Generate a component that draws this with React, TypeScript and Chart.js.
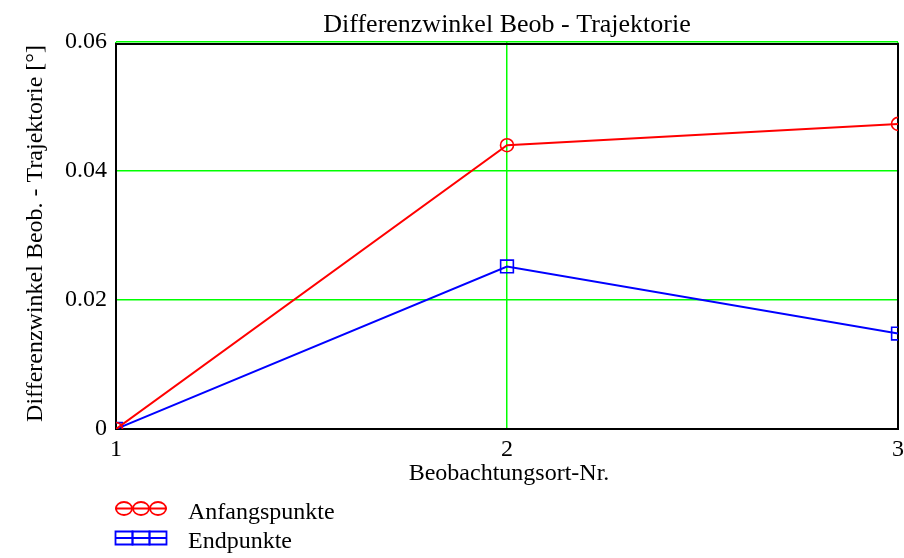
import React, { useEffect, useRef } from 'react';
import { Chart, registerables } from 'chart.js';

Chart.register(...registerables);

// ---- data ----
const categories = [1, 2, 3];
const anfangspunkte = [0, 0.044, 0.0473];
const endpunkte = [0, 0.0252, 0.0148];
const xTickLabels = ['1', '2', '3'];
const yTickLabels = ['0', '0.02', '0.04', '0.06'];
const seriesNames = ['Anfangspunkte', 'Endpunkte'];
const seriesColors = ['#ff0000', '#0000ff'];
const chartTitle = 'Differenzwinkel Beob - Trajektorie';
const xTitle = 'Beobachtungsort-Nr.';
const yTitle = 'Differenzwinkel Beob. - Trajektorie [°]';

const FONT = '"Liberation Serif", "Times New Roman", Times, serif';
const GREEN = '#00ff00';

const decorPlugin = {
  id: 'decor',
  beforeDatasetsDraw(chart: any) {
    const { ctx, chartArea: a } = chart;
    ctx.save();
    ctx.strokeStyle = '#000';
    ctx.lineWidth = 2;
    ctx.beginPath();
    ctx.moveTo(a.left, a.top + 1);
    ctx.lineTo(a.left, a.bottom + 1);
    ctx.moveTo(a.left - 1, a.bottom);
    ctx.lineTo(a.right + 1, a.bottom);
    ctx.moveTo(a.right, a.bottom + 1);
    ctx.lineTo(a.right, a.top + 1);
    ctx.moveTo(a.left - 1, a.top + 2);
    ctx.lineTo(a.right + 1, a.top + 2);
    ctx.stroke();
    ctx.restore();
  },
  afterDraw(chart: any) {
    const { ctx, chartArea: a } = chart;
    ctx.save();
    ctx.fillStyle = '#000';
    ctx.textBaseline = 'alphabetic';
    // chart title
    ctx.font = `26px ${FONT}`;
    ctx.textAlign = 'center';
    ctx.fillText(chartTitle, (a.left + a.right) / 2, 32);
    // x title
    ctx.font = `24px ${FONT}`;
    ctx.fillText(xTitle, (a.left + a.right) / 2 + 2, 480);
    // y title
    ctx.save();
    ctx.translate(42, (a.top + a.bottom) / 2 - 2);
    ctx.rotate(-Math.PI / 2);
    ctx.fillText(yTitle, 0, 0);
    ctx.restore();

    // legend
    const rows = [
      { name: seriesNames[0], color: seriesColors[0], shape: 'circle', cy: 508.5, base: 519 },
      { name: seriesNames[1], color: seriesColors[1], shape: 'rect', cy: 538, base: 548 },
    ];
    const centers = [124, 141, 158];
    rows.forEach((r) => {
      ctx.strokeStyle = r.color;
      ctx.lineWidth = 1.8;
      ctx.beginPath();
      ctx.moveTo(115, r.cy);
      ctx.lineTo(167, r.cy);
      ctx.stroke();
      centers.forEach((cx) => {
        ctx.beginPath();
        if (r.shape === 'circle') {
          ctx.ellipse(cx, r.cy, 8, 6.5, 0, 0, Math.PI * 2);
        } else {
          ctx.rect(cx - 8.5, r.cy - 6.5, 17, 13);
        }
        ctx.stroke();
      });
      ctx.fillStyle = '#000';
      ctx.textAlign = 'left';
      ctx.font = `24px ${FONT}`;
      ctx.fillText(r.name, 188, r.base);
    });
    ctx.restore();
  },
};

export default function App() {
  const ref = useRef<HTMLCanvasElement | null>(null);

  useEffect(() => {
    if (!ref.current) return;
    const toPoints = (vals: number[]) => categories.map((c, i) => ({ x: c, y: vals[i] }));
    const chart = new Chart(ref.current, {
      type: 'line',
      data: {
        datasets: [
          {
            label: seriesNames[0],
            data: toPoints(anfangspunkte),
            borderColor: seriesColors[0],
            backgroundColor: 'rgba(0,0,0,0)',
            borderWidth: 2,
            pointStyle: 'circle',
            pointRadius: 6.5,
            pointBorderWidth: 1.6,
            pointBorderColor: seriesColors[0],
            pointBackgroundColor: 'rgba(0,0,0,0)',
            tension: 0,
            clip: 0,
          },
          {
            label: seriesNames[1],
            data: toPoints(endpunkte),
            borderColor: seriesColors[1],
            backgroundColor: 'rgba(0,0,0,0)',
            borderWidth: 2,
            pointStyle: 'rect',
            pointRadius: 9,
            pointBorderWidth: 1.6,
            pointBorderColor: seriesColors[1],
            pointBackgroundColor: 'rgba(0,0,0,0)',
            tension: 0,
            clip: 0,
          },
        ],
      },
      options: {
        responsive: false,
        animation: false,
        events: [],
        layout: { autoPadding: false, padding: { left: 0, top: 42, right: 6, bottom: 0 } },
        plugins: {
          legend: { display: false },
          title: { display: false },
          tooltip: { enabled: false },
        },
        scales: {
          x: {
            type: 'linear',
            min: 1,
            max: 3,
            border: { display: false },
            grid: { color: GREEN, lineWidth: 1.5, drawTicks: false, tickLength: 0 },
            ticks: {
              stepSize: 1,
              padding: 6,
              color: '#000',
              font: { family: FONT, size: 24 },
              maxRotation: 0,
              callback: (_v: any, i: number) => xTickLabels[i],
            },
            afterFit: (s: any) => {
              s.height = 129;
              s.paddingLeft = 0;
              s.paddingRight = 0;
            },
          },
          y: {
            type: 'linear',
            min: 0,
            max: 0.06,
            border: { display: false },
            grid: { color: GREEN, lineWidth: 1.5, drawTicks: false, tickLength: 0 },
            ticks: {
              stepSize: 0.02,
              padding: 9,
              color: '#000',
              font: { family: FONT, size: 24 },
              callback: (_v: any, i: number) => yTickLabels[i],
            },
            afterFit: (s: any) => {
              s.width = 116;
              s.paddingTop = 0;
              s.paddingBottom = 0;
            },
          },
        },
      },
      plugins: [decorPlugin],
    } as any);
    return () => chart.destroy();
  }, []);

  return (
    <div style={{ position: 'absolute', left: 0, top: 0, width: 904, height: 558, background: '#fff' }}>
      <canvas ref={ref} width={904} height={558} style={{ display: 'block' }} />
    </div>
  );
}
